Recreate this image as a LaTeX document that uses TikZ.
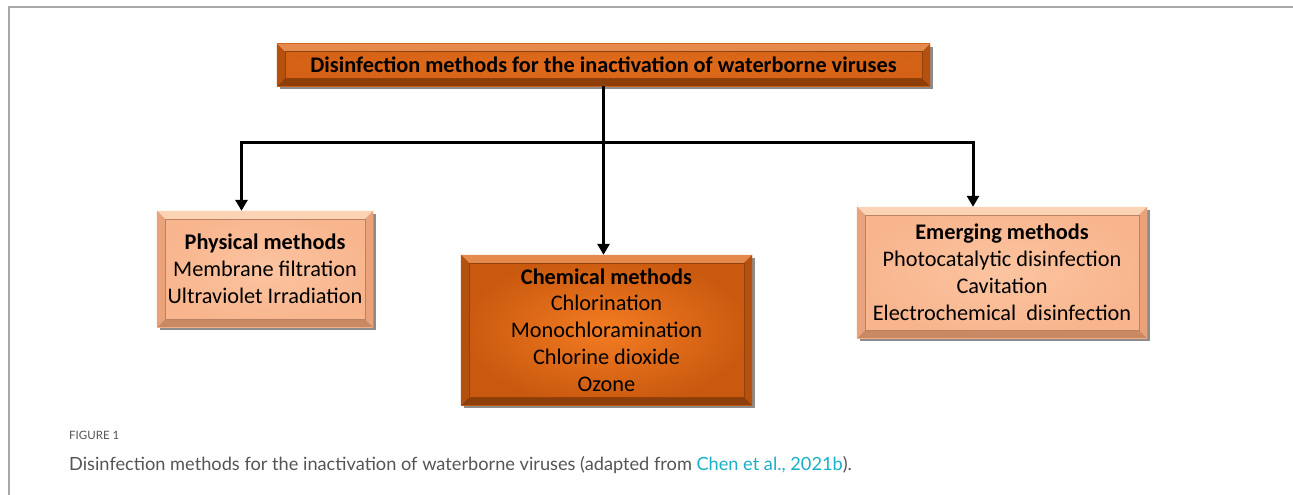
\documentclass[tikz,border=0pt]{standalone}
\usepackage{fontspec}
\setmainfont{Carlito}
\newfontfamily\capfont{Lato}
\usetikzlibrary{shadows,arrows.meta,calc}
\definecolor{peach}{HTML}{F8B58D}
\definecolor{peachin}{HTML}{FBC4A0}
\definecolor{peachhi}{HTML}{FDD3B6}
\definecolor{peachlo}{HTML}{C98963}
\definecolor{peachside}{HTML}{E9A27A}
\definecolor{orgin}{HTML}{F47C22}
\definecolor{orgout}{HTML}{C9590F}
\definecolor{orghi}{HTML}{E38A4C}
\definecolor{orglo}{HTML}{8E3E08}
\definecolor{orgside}{HTML}{B5510E}
\definecolor{titlein}{HTML}{E26C1C}
\definecolor{titleout}{HTML}{D46216}
\definecolor{framegray}{HTML}{A8A8A8}
\definecolor{capgray}{HTML}{555555}
\definecolor{linkcol}{HTML}{1AAFC9}
\newcommand\bevelbox[4]{%
  \fill[#2] (#1.north west) -- (#1.north east) -- ([shift={(-8pt,-8pt)}]#1.north east) -- ([shift={(8pt,-8pt)}]#1.north west) -- cycle;
  \fill[#3] (#1.south west) -- (#1.south east) -- ([shift={(-8pt,8pt)}]#1.south east) -- ([shift={(8pt,8pt)}]#1.south west) -- cycle;
  \fill[#4] (#1.north west) -- (#1.south west) -- ([shift={(8pt,8pt)}]#1.south west) -- ([shift={(8pt,-8pt)}]#1.north west) -- cycle;
  \fill[#4] (#1.north east) -- (#1.south east) -- ([shift={(-8pt,8pt)}]#1.south east) -- ([shift={(-8pt,-8pt)}]#1.north east) -- cycle;
  \draw[#4!80!black, line width=0.6pt] ([shift={(8pt,-8pt)}]#1.north west) rectangle ([shift={(-8pt,8pt)}]#1.south east);
}
\tikzset{
  boxbase/.style={rectangle, inner sep=0pt, align=center,
    drop shadow={shadow xshift=3pt, shadow yshift=-3pt, opacity=0.45, fill=black}},
  peachbox/.style={boxbase, shading=radial, inner color=peachin, outer color=peach},
  orangebox/.style={boxbase, shading=radial, inner color=orgin, outer color=orgout},
  titlebox/.style={boxbase, shading=radial, inner color=titlein, outer color=titleout},
  boxtext/.style={align=center, inner sep=0pt, font=\fontsize{22.3}{27}\selectfont},
  conn/.style={line width=3pt, black},
  arr/.style={conn, -{Triangle[width=12pt,length=11pt]}},
}
\begin{document}
\begin{tikzpicture}[x=1pt,y=-1pt]
\useasboundingbox (0,0) rectangle (1293,495);
\fill[white] (0,0) rectangle (1293,495);
\draw[framegray, line width=1.6pt] (9,495) -- (9,7) -- (1293,7);

\node[titlebox, minimum width=653pt, minimum height=42pt] (title) at (603.5,65) {};
\bevelbox{title}{orghi}{orglo}{orgside}
\node[inner sep=0pt] at ([yshift=0.5pt]title.center) {\bfseries\fontsize{22.3}{24}\selectfont Disinfection methods for the inactivation of waterborne viruses};

\node[peachbox, minimum width=216pt, minimum height=116pt] (phys) at (265,269) {};
\bevelbox{phys}{peachhi}{peachlo}{peachside}
\node[boxtext] at (phys.center) {\textbf{Physical methods}\\Membrane filtration\\Ultraviolet Irradiation};

\node[orangebox, minimum width=291pt, minimum height=150pt] (chem) at (606.5,330) {};
\bevelbox{chem}{orghi}{orglo}{orgside}
\node[boxtext, font=\fontsize{22.3}{26.8}\selectfont] at (chem.center) {\textbf{Chemical methods}\\Chlorination\\Monochloramination\\Chlorine dioxide\\Ozone};

\node[peachbox, minimum width=290pt, minimum height=131pt] (emer) at (1002,272.5) {};
\bevelbox{emer}{peachhi}{peachlo}{peachside}
\node[boxtext] at (emer.center) {\textbf{Emerging methods}\\Photocatalytic disinfection\\Cavitation\\Electrochemical\ \ disinfection};

\coordinate (pl) at (241.5,142);
\coordinate (pr) at (973,142);
\draw[arr] (title.south) -- (title.south |- chem.north);
\draw[arr] (pr) -- (pr |- emer.north);
\draw[arr] (pl) -- (pl |- phys.north);
\draw[conn, line join=miter] (pl |- 0,150) -- (pl) -- (pr) -- (pr |- 0,150);

\node[anchor=base west, inner sep=0pt, text=capgray, font=\capfont\fontsize{11.5}{13}\selectfont] at (69,439) {FIGURE 1};
\node[anchor=base west, inner sep=0pt, text=capgray, font=\capfont\fontsize{18.2}{20}\selectfont] at (69,470) {Disinfection methods for the inactivation of waterborne viruses (adapted from \textcolor{linkcol}{Chen et al., 2021b}).};
\end{tikzpicture}
\end{document}
